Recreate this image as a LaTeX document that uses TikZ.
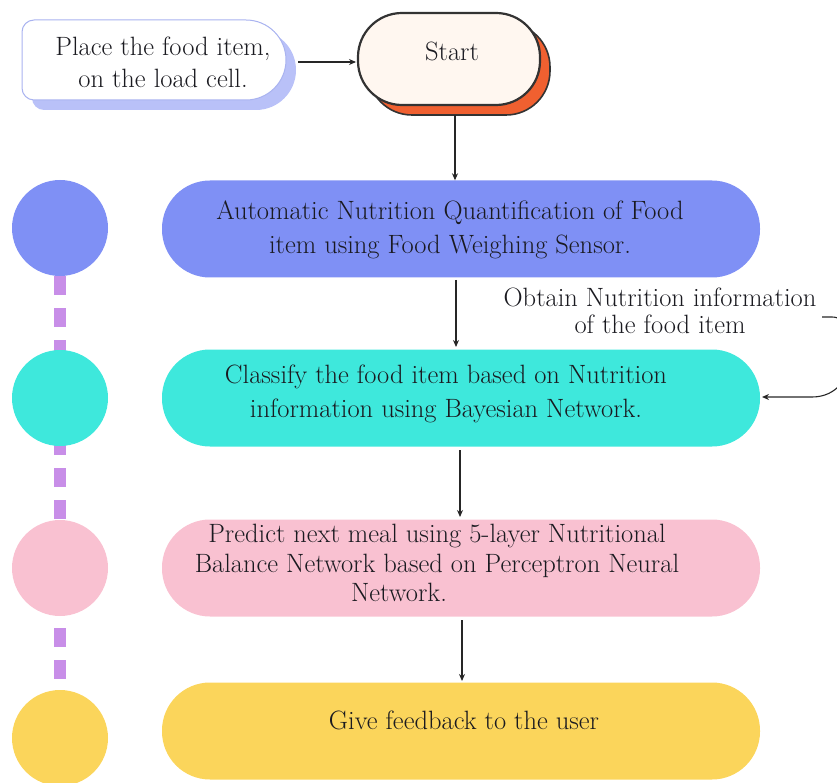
\documentclass[tikz,border=0pt]{standalone}
\usetikzlibrary{arrows.meta}
\definecolor{cblue}{HTML}{7F90F5}
\definecolor{cturq}{HTML}{3EE8DC}
\definecolor{cpink}{HTML}{F9C1D1}
\definecolor{cgold}{HTML}{FBD55B}
\definecolor{cdash}{HTML}{C88EE8}
\definecolor{corange}{HTML}{F06030}
\definecolor{cshadow}{HTML}{B9C1F8}
\definecolor{cborder}{HTML}{A9B3F0}
\definecolor{ctext}{HTML}{1A1A20}
\tikzset{
  stagebox/.style={rounded corners=48pt, minimum width=598pt, minimum height=97pt, inner sep=0pt, text=ctext},
  dot/.style={circle, minimum size=96pt, inner sep=0pt},
  arr/.style={-{Stealth[length=7pt,width=6pt]}, line width=1.1pt, draw=black!85},
  txt/.style={text=ctext, align=center, inner sep=0pt, font=\fontsize{26.5}{28}\selectfont}
}
\begin{document}
\begin{tikzpicture}[x=1pt,y=-1pt]
\useasboundingbox (0,0) rectangle (837,783);
% dashed connecting line behind circles
\draw[cdash, line width=12pt, dash pattern=on 19pt off 13pt] (60,276) -- (60,690);
% circles
\node[dot, fill=cblue] (c1) at (60,228) {};
\node[dot, fill=cturq] (c2) at (60,398) {};
\node[dot, fill=cpink] (c3) at (60,568) {};
\node[dot, fill=cgold] (c4) at (60,738) {};
% place box with shadow
\fill[cshadow] (32,30) [rounded corners=12pt] -- (32,110) [rounded corners=40pt] -- (296,110) -- (296,30) [rounded corners=12pt] -- cycle;
\filldraw[fill=white, draw=cborder, line width=1pt] (22,20) [rounded corners=12pt] -- (22,100) [rounded corners=40pt] -- (286,100) -- (286,20) [rounded corners=12pt] -- cycle;
\node[txt, font=\fontsize{26.5}{32}\selectfont] (place) at (163,62) {Place the food item,\\on the load cell.};
\coordinate (placeE) at (298,62);
% start with shadow
\filldraw[fill=corange, draw=black!80, line width=1.6pt, rounded corners=44pt] (368,23) rectangle (550,115);
\filldraw[fill=white!94!orange, draw=black!80, line width=2.2pt, rounded corners=44pt] (358,13) rectangle (540,105);
\node[txt] (start) at (452,51) {Start};
\coordinate (startW) at (356,62);
\coordinate (startS) at (455,115);
% stage boxes
\node[stagebox, fill=cblue] (b1) at (461,229) {};
\node[txt, font=\fontsize{26.5}{34}\selectfont] (t1) at (450,230) {Automatic Nutrition Quantification of Food\\item using Food Weighing Sensor.};
\node[stagebox, fill=cturq] (b2) at (461,398) {};
\node[txt, font=\fontsize{26.5}{34}\selectfont] (t2) at (446,394) {Classify the food item based on Nutrition\\information using Bayesian Network.};
\node[stagebox, fill=cpink] (b3) at (461,568) {};
\node[txt, font=\fontsize{26.5}{29.5}\selectfont] (t3) at (437,563) {Predict next meal using 5-layer Nutritional\\Balance Network based on Perceptron Neural\\Network.\hspace*{76pt}};
\node[stagebox, fill=cgold] (b4) at (461,731) {};
\node[txt] (t4) at (464,720) {Give feedback to the user};
% label
\node[txt, font=\fontsize{26.5}{27}\selectfont] (lab) at (660,311) {Obtain Nutrition information\\of the food item};
% arrows
\draw[arr] (placeE) -- (startW);
\draw[arr] (startS) -- (b1.north -| startS);
\draw[arr] (456,280) -- (456,347);
\draw[arr] (460,450) -- (460,517);
\draw[arr] (462,620) -- (462,681);
\coordinate (fbS) at (822,317);
\coordinate (fbE) at (762,397);
\draw[arr] (fbS) -- (832,317) .. controls (862,317) and (862,397) .. (812,397) -- (fbE);
\end{tikzpicture}
\end{document}
